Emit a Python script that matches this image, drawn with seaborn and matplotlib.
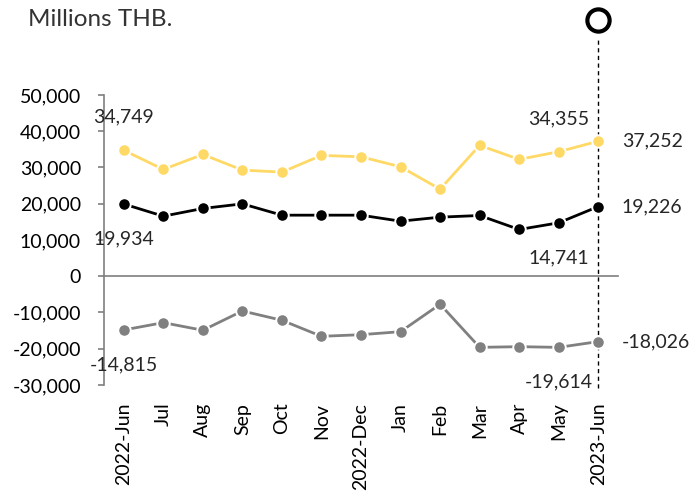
import numpy as np
import pandas as pd
import matplotlib
matplotlib.use("Agg")
import matplotlib.pyplot as plt
import matplotlib.transforms as mtransforms
from matplotlib.ticker import FuncFormatter
import seaborn as sns

# Data (millions THB)
months = ["2022-Jun", "Jul", "Aug", "Sep", "Oct", "Nov", "2022-Dec",
          "Jan", "Feb", "Mar", "Apr", "May", "2023-Jun"]
imports = [34749, 29470, 33600, 29280, 28730, 33340, 32950,
           30200, 24030, 36100, 32240, 34355, 37252]
exports = [19934, 16570, 18700, 19970, 16850, 16850, 16850,
           15190, 16300, 16760, 12900, 14741, 19226]
balance = [-14815, -12800, -14900, -9580, -12150, -16570, -16120,
           -15290, -7730, -19610, -19430, -19614, -18026]

# labelled points: index -> placement
label_spots = {
    "imports": [(0, "above"), (11, "above"), (12, "right")],
    "exports": [(0, "below"), (11, "below"), (12, "right")],
    "balance": [(0, "below"), (11, "below"), (12, "right")],
}
colors = {"imports": "#FFD966", "exports": "#000000", "balance": "#808080"}

sns.set_style("white")
plt.rcParams["font.family"] = ["Lato", "DejaVu Sans"]

df = pd.DataFrame({
    "idx": list(range(len(months))) * 3,
    "value": imports + exports + balance,
    "series": ["imports"] * 13 + ["exports"] * 13 + ["balance"] * 13,
})

fig = plt.figure(figsize=(6.97, 4.94), dpi=100)
ax = fig.add_axes([104 / 697, 109 / 494, 514 / 697, 290 / 494])

for i, name in enumerate(["imports", "exports", "balance"]):
    sub = df[df["series"] == name]
    sns.lineplot(data=sub, x="idx", y="value", ax=ax, color=colors[name],
                 lw=2.0, marker="o", markersize=9, markeredgecolor="white",
                 markeredgewidth=1.4, zorder=3 + i)
    for j, where in label_spots[name]:
        v = sub["value"].iloc[j]
        txt = f"{v:,.0f}"
        if where == "above":
            ax.annotate(txt, (j, v), xytext=(0, 24), textcoords="offset points",
                        ha="center", va="center", fontsize=14, zorder=10)
        elif where == "below":
            ax.annotate(txt, (j, v), xytext=(0, -25), textcoords="offset points",
                        ha="center", va="center", fontsize=14, zorder=10)
        else:
            ax.annotate(txt, (j, v), xytext=(17, 0), textcoords="offset points",
                        ha="left", va="center", fontsize=14, zorder=10,
                        annotation_clip=False)

# marker line on the latest month
trans = mtransforms.blended_transform_factory(ax.transData, ax.transAxes)
last = len(months) - 1
ax.plot([last, last], [-0.01, 1.20], ls=(0, (3, 2.5)), lw=1, color="black",
        transform=trans, clip_on=False, zorder=1)
ax.plot([last], [1.259], marker="o", ms=16, mfc="white", mec="black", mew=3,
        transform=trans, clip_on=False, zorder=12)

ax.set_xlim(-0.5, 12.5)
ax.set_ylim(-30000, 50000)
ax.set_yticks(range(-30000, 50001, 10000))
ax.yaxis.set_major_formatter(FuncFormatter(lambda v, _: f"{v:,.0f}"))
ax.set_xticks(range(len(months)))
ax.set_xticklabels(months)
ax.set_xticks(np.arange(-0.5, 13, 1), minor=True)

ax.spines["top"].set_visible(False)
ax.spines["right"].set_visible(False)
ax.spines["bottom"].set_position(("data", 0))
for s in ["left", "bottom"]:
    ax.spines[s].set_color("#7f7f7f")
    ax.spines[s].set_linewidth(1.2)

ax.tick_params(axis="x", which="major", length=0, pad=91, labelsize=14,
               labelcolor="black", labelrotation=90)
ax.tick_params(axis="x", which="minor", length=4.5, width=1.2,
               color="#7f7f7f", direction="out")
ax.tick_params(axis="y", length=4.5, width=1.2, color="#7f7f7f", pad=12,
               labelsize=14, labelcolor="black", left=True)
for lab in ax.get_xticklabels():
    lab.set_verticalalignment("top")
    lab.set_horizontalalignment("center")
ax.set_xlabel("")
ax.set_ylabel("")
ax.grid(False)

fig.text(28 / 697, 1 - 20 / 494, "Millions THB.", ha="left", va="center",
         fontsize=17.5, color="#333333")

fig.savefig("out.png", dpi=100)
